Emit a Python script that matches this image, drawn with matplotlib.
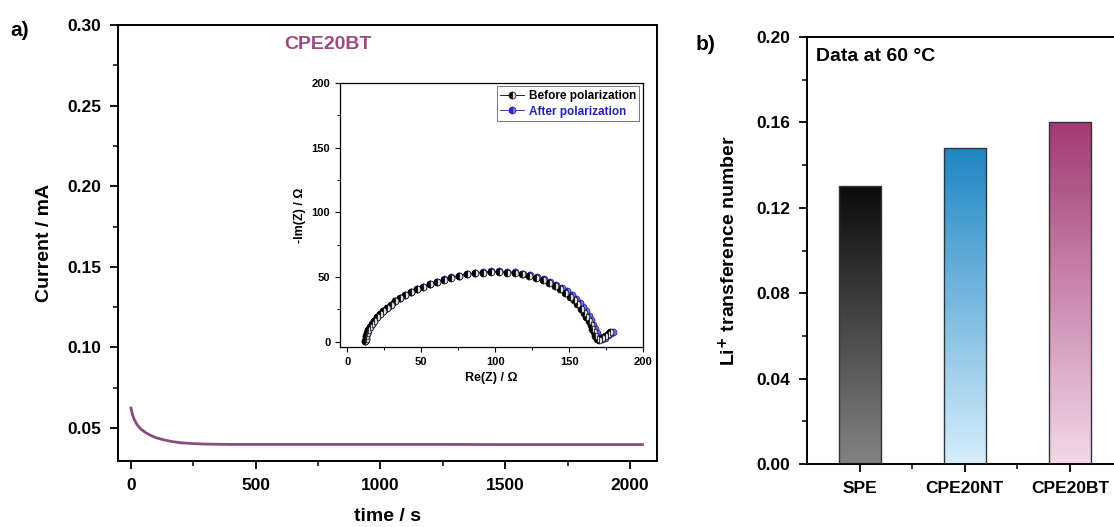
import matplotlib
matplotlib.use('Agg')
import matplotlib.pyplot as plt
import numpy as np
from matplotlib.colors import LinearSegmentedColormap
from matplotlib.ticker import MultipleLocator

plt.rcParams['font.family'] = ['Liberation Sans', 'DejaVu Sans']
plt.rcParams['font.weight'] = 'bold'

# --- datos del panel a) : corriente vs tiempo
t_s = [0, 5, 10, 20, 30, 40, 60, 80, 100, 130, 160, 200, 250, 300, 400, 500, 750,
       1000, 1250, 1500, 1750, 2050]
corriente_mA = [0.0624, 0.0590, 0.0565, 0.0532, 0.0510, 0.0493, 0.0470, 0.0453, 0.0440,
                0.0427, 0.0417, 0.0408, 0.0403, 0.0400, 0.0398, 0.0398, 0.0398,
                0.0398, 0.0398, 0.0397, 0.0397, 0.0397]

# --- inset: Nyquist antes / despues de polarizar
re_antes = [12, 12.3, 12.7, 13.3, 14.2, 15.3, 16.6, 18.2, 20, 22, 24.3, 26.8, 29.5,
            32.5, 35.8, 39.3, 43, 47, 51.2, 55.7, 60.4, 65.3, 70.4, 75.6, 81, 86.4,
            91.8, 97.2, 102.6, 108, 113.2, 118.3, 123.2, 127.9, 132.3, 136.5, 140.4,
            144, 147.3, 150.3, 153, 155.5, 157.8, 159.8, 161.6, 163.2, 164.6, 165.8,
            166.8, 167.8, 169, 170.5, 172, 174, 176, 178]
im_antes = [0.5, 2.5, 4.5, 6.7, 9, 11.4, 13.8, 16.3, 18.8, 21.3, 23.8, 26.3, 28.8,
            31.2, 33.6, 36, 38.3, 40.5, 42.6, 44.6, 46.4, 48.1, 49.6, 50.9, 52, 52.9,
            53.5, 53.8, 53.8, 53.5, 52.9, 52, 50.8, 49.3, 47.5, 45.4, 43.1, 40.6,
            37.9, 35, 32, 28.9, 25.7, 22.5, 19.3, 16.1, 13, 10, 7.2, 4.6, 2.4, 1.5,
            2.8, 4.8, 6.3, 7.2]
re_despues = [12, 12.3, 12.7, 13.3, 14.2, 15.3, 16.6, 18.2, 20, 22, 24.3, 26.8, 29.5,
              32.5, 35.8, 39.3, 43, 47, 51.2, 55.7, 60.4, 65.3, 70.4, 75.6, 81, 86.4,
              91.8, 97.2, 102.6, 108, 113.3, 118.5, 123.5, 128.3, 132.9, 137.2, 141.3,
              145.1, 148.6, 151.8, 154.7, 157.3, 159.6, 161.7, 163.5, 165.1, 166.5,
              167.8, 168.9, 169.9, 171, 172.5, 174.5, 176.5, 178.5, 180]
im_despues = [0.5, 2.5, 4.5, 6.7, 9, 11.4, 13.8, 16.3, 18.8, 21.3, 23.8, 26.3, 28.8,
              31.2, 33.6, 36, 38.3, 40.5, 42.6, 44.6, 46.5, 48.2, 49.8, 51.2, 52.4,
              53.4, 54.1, 54.5, 54.5, 54.2, 53.6, 52.7, 51.5, 50.1, 48.4, 46.4, 44.2,
              41.8, 39.2, 36.4, 33.4, 30.3, 27, 23.6, 20.1, 16.6, 13.1, 9.8, 6.7, 4,
              2.2, 1.8, 3.3, 5.2, 6.6, 7.4]

# --- datos del panel b) : numero de transferencia
muestras = ['SPE', 'CPE20NT', 'CPE20BT']
t_li = [0.130, 0.148, 0.160]
color_arriba = ['#0b0b0b', '#1f86c4', '#a23a74']
color_abajo = ['#838383', '#d6eefc', '#f3d8e8']

fig = plt.figure(figsize=(11.14, 5.27), dpi=100)

# Panel a)
ax = fig.add_axes([0.1059, 0.1252, 0.4838, 0.8273])
ax.plot(t_s, corriente_mA, color='#8a4a7c', linewidth=2.0)
ax.set_xlim(-52, 2108)
ax.set_ylim(0.0295, 0.30)
ax.xaxis.set_major_locator(MultipleLocator(500))
ax.xaxis.set_minor_locator(MultipleLocator(250))
ax.yaxis.set_major_locator(MultipleLocator(0.05))
ax.yaxis.set_minor_locator(MultipleLocator(0.025))
ax.tick_params(which='major', direction='out', length=6, width=1.3, labelsize=12.5, pad=6)
ax.tick_params(which='minor', direction='out', length=3.5, width=1.1)
for s in ax.spines.values():
    s.set_linewidth(1.4)
ax.set_xlabel('time / s', fontsize=14, fontweight='bold', labelpad=11)
ax.set_ylabel('Current / mA', fontsize=14, fontweight='bold', labelpad=10)
ax.text(0.39, 0.955, 'CPE20BT', transform=ax.transAxes, fontsize=14,
        fontweight='bold', color='#9c4a82', ha='center', va='center')

# Inset
axi = fig.add_axes([0.3052, 0.3416, 0.272, 0.501])
l_desp, = axi.plot(re_despues, im_despues, color='#2222aa', linewidth=0.6, marker='o',
                   markersize=5, markerfacecolor='#2a2ad0', markerfacecoloralt='#7070e8',
                   fillstyle='left', markeredgecolor='#1a1a9a', markeredgewidth=0.5,
                   label='After polarization')
l_ant, = axi.plot(re_antes, im_antes, color='black', linewidth=0.6, marker='o',
                  markersize=5, markerfacecolor='black', markerfacecoloralt='#dddddd',
                  fillstyle='left', markeredgecolor='black', markeredgewidth=0.5,
                  label='Before polarization')
axi.set_xlim(-5, 200)
axi.set_ylim(-4, 200)
axi.xaxis.set_major_locator(MultipleLocator(50))
axi.xaxis.set_minor_locator(MultipleLocator(25))
axi.yaxis.set_major_locator(MultipleLocator(50))
axi.yaxis.set_minor_locator(MultipleLocator(25))
axi.tick_params(which='major', direction='out', length=3.5, width=0.8, labelsize=8)
axi.tick_params(which='minor', direction='out', length=2, width=0.7)
for s in axi.spines.values():
    s.set_linewidth(0.9)
axi.set_xlabel('Re(Z) / Ω', fontsize=9, fontweight='bold')
axi.set_ylabel('-Im(Z) / Ω', fontsize=9, fontweight='bold')
leg = axi.legend([l_ant, l_desp], ['Before polarization', 'After polarization'],
                 loc='upper right', fontsize=8.5, frameon=True, fancybox=False,
                 edgecolor='#555555', borderpad=0.3, handlelength=2.0,
                 handletextpad=0.4, labelspacing=0.3, borderaxespad=0.3)
leg.get_frame().set_linewidth(0.7)
leg.get_texts()[1].set_color('#2222bb')

# Panel b)
axb = fig.add_axes([0.7244, 0.1195, 0.2832, 0.8102])
x = np.arange(len(muestras))
barras = axb.bar(x, t_li, width=0.4, facecolor='none', edgecolor='#333333',
                 linewidth=1.0, zorder=3)
for b, c_top, c_bot in zip(barras, color_arriba, color_abajo):
    cmap = LinearSegmentedColormap.from_list('g', [c_bot, c_top])
    x0 = b.get_x()
    grad = np.linspace(0, 1, 256).reshape(-1, 1)
    im = axb.imshow(grad, cmap=cmap, origin='lower', aspect='auto',
                    extent=[x0, x0 + b.get_width(), 0, b.get_height()], zorder=2)
    im.set_clip_path(b)
axb.set_xlim(-0.5, 2.5)
axb.set_ylim(0, 0.20)
axb.set_xticks(x)
axb.set_xticklabels(muestras)
axb.set_xticks([0.5, 1.5], minor=True)
axb.yaxis.set_major_locator(MultipleLocator(0.04))
axb.yaxis.set_minor_locator(MultipleLocator(0.02))
axb.yaxis.set_major_formatter(matplotlib.ticker.FormatStrFormatter('%.2f'))
axb.tick_params(which='major', direction='out', length=6, width=1.3, labelsize=12.5, pad=6)
axb.tick_params(which='minor', direction='out', length=3.5, width=1.1)
for s in axb.spines.values():
    s.set_linewidth(1.4)
axb.set_ylabel('Li$^{\\mathbf{+}}$ transference number', fontsize=14, fontweight='bold',
               labelpad=12)
axb.text(0.03, 0.955, 'Data at 60 °C', transform=axb.transAxes, fontsize=14,
         fontweight='bold', ha='left', va='center')

fig.text(0.009, 0.943, 'a)', fontsize=15, fontweight='bold', va='center')
fig.text(0.624, 0.915, 'b)', fontsize=15, fontweight='bold', va='center')

fig.savefig('out.png', dpi=100)
